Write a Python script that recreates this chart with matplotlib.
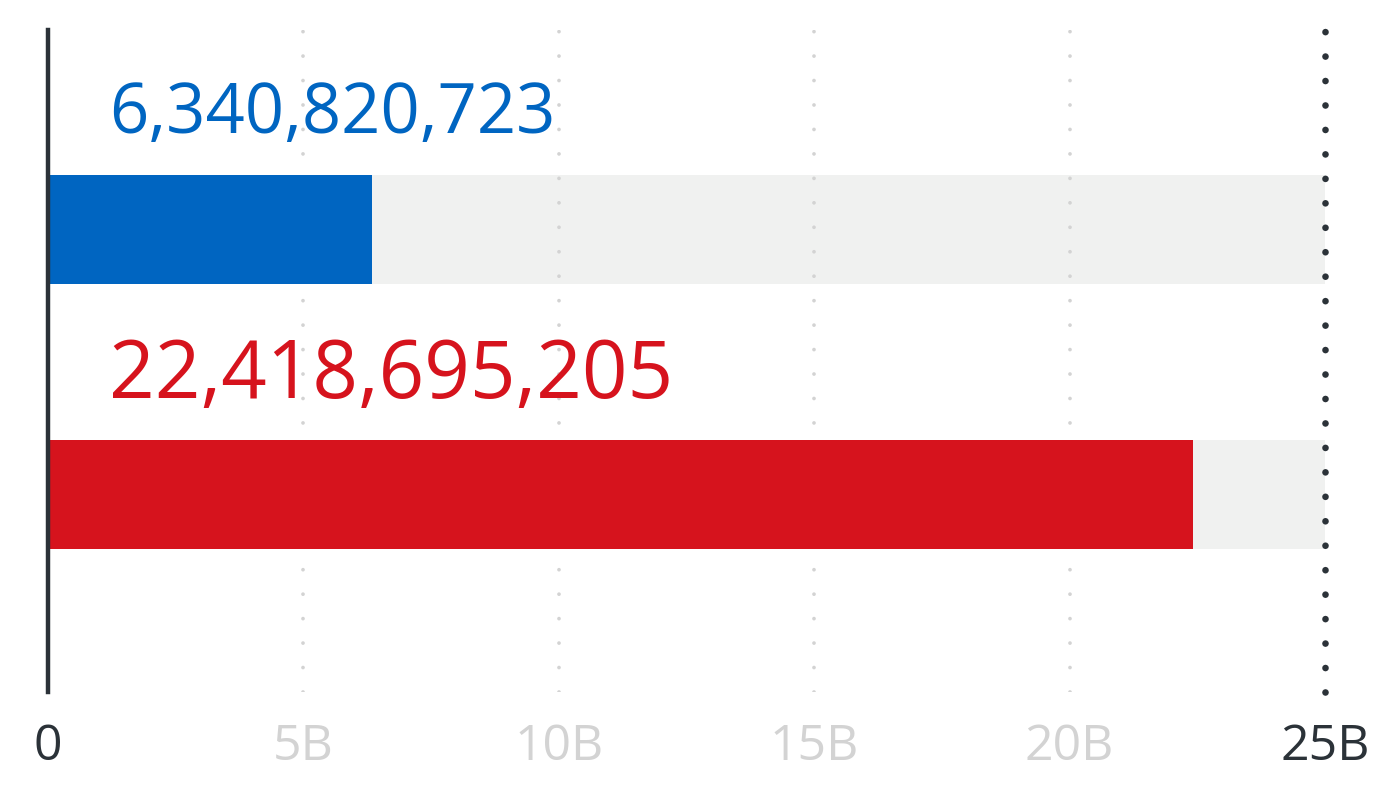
import matplotlib.pyplot as plt
from matplotlib.ticker import FixedLocator

plt.rcParams['lines.scale_dashes'] = False

categories = ['A', 'B']
values = [6340820723, 22418695205]
labels = ['6,340,820,723', '22,418,695,205']
colors = ['#0065c1', '#d6131d']
label_sizes = [49.5, 57.5]
xmax = 25e9
ticks = [0, 5e9, 10e9, 15e9, 20e9, 25e9]
tick_labels = ['0', '5B', '10B', '15B', '20B', '25B']

DARK = '#2b3238'
LIGHT = '#d3d3d3'

fig = plt.figure(figsize=(13.94, 8), dpi=100)
ax = fig.add_axes([48 / 1394, 1 - 692 / 800, (1325 - 48) / 1394, 662 / 800])

pos = list(range(len(categories)))
h = 0.411
ax.barh(pos, [xmax] * len(pos), height=h, color='#f0f1f0', zorder=1)
ax.barh(pos, values, height=h, color=colors, zorder=3)

for p, lab, c, s in zip(pos, labels, colors, label_sizes):
    ax.text(1.2e9, p - 0.366, lab, color=c, fontsize=s, family='Open Sans',
            va='baseline', ha='left')

for t in ticks[1:-1]:
    ax.axvline(t, color=LIGHT, lw=2.7, linestyle=(0, (0.01, 17.6)),
               dash_capstyle='round', zorder=2)
ax.axvline(xmax, color=DARK, lw=4.8, linestyle=(0, (0.01, 17.6)),
           dash_capstyle='round', zorder=4, clip_on=False)

ax.set_xlim(0, xmax)
ax.set_ylim(1.745, -0.753)
ax.set_yticks([])
for s in ['top', 'right', 'bottom']:
    ax.spines[s].set_visible(False)
ax.spines['left'].set_linewidth(3.2)
ax.spines['left'].set_color(DARK)
ax.spines['left'].set_zorder(5)

ax.xaxis.set_major_locator(FixedLocator(ticks))
ax.set_xticklabels(tick_labels, family='Open Sans', fontsize=36)
ax.tick_params(axis='x', length=0, pad=22)
for i, tl in enumerate(ax.get_xticklabels()):
    tl.set_color(DARK if i in (0, len(ticks) - 1) else LIGHT)

fig.savefig('out.png', dpi=100)
